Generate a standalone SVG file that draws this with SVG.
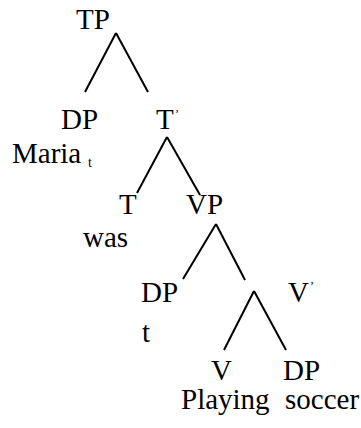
<svg xmlns="http://www.w3.org/2000/svg" width="361" height="428" viewBox="0 0 361 428">
<style>
line{stroke:#000;stroke-width:2}
</style>
<rect width="361" height="428" fill="#fff"/>
<g id="edges">
<line x1="116" y1="33" x2="85" y2="92"/>
<line x1="116" y1="33" x2="148" y2="92"/>
<line x1="167" y1="137" x2="137" y2="193"/>
<line x1="167" y1="137" x2="200" y2="195"/>
<line x1="216" y1="224" x2="183" y2="279"/>
<line x1="216" y1="224" x2="245" y2="280"/>
<line x1="254" y1="291" x2="224" y2="350"/>
<line x1="254" y1="291" x2="286" y2="350"/>
</g>
<g font-family="Liberation Serif" font-size="29" fill="#000">
<g id="tp"><text x="76" y="29">TP</text></g>
<g id="dp1"><text x="61" y="129">DP</text><text x="12" y="163">Maria</text><text font-size="14" x="88" y="167">t</text></g>
<g id="tbar"><text x="156" y="129">T</text><text font-size="12" x="175" y="118">’</text></g>
<g id="t"><text x="119" y="214">T</text><text x="83" y="247">was</text></g>
<g id="vp"><text x="186" y="214">VP</text></g>
<g id="dp2"><text x="141" y="302">DP</text><text x="142" y="342">t</text></g>
<g id="vbar"><text x="288" y="302">V</text><text font-size="12" x="310" y="290">’</text></g>
<g id="v"><text x="211" y="380">V</text><text x="181" y="409">Playing</text></g>
<g id="dp3"><text x="283" y="380">DP</text><text x="285" y="409">soccer</text></g>
</g>
</svg>
